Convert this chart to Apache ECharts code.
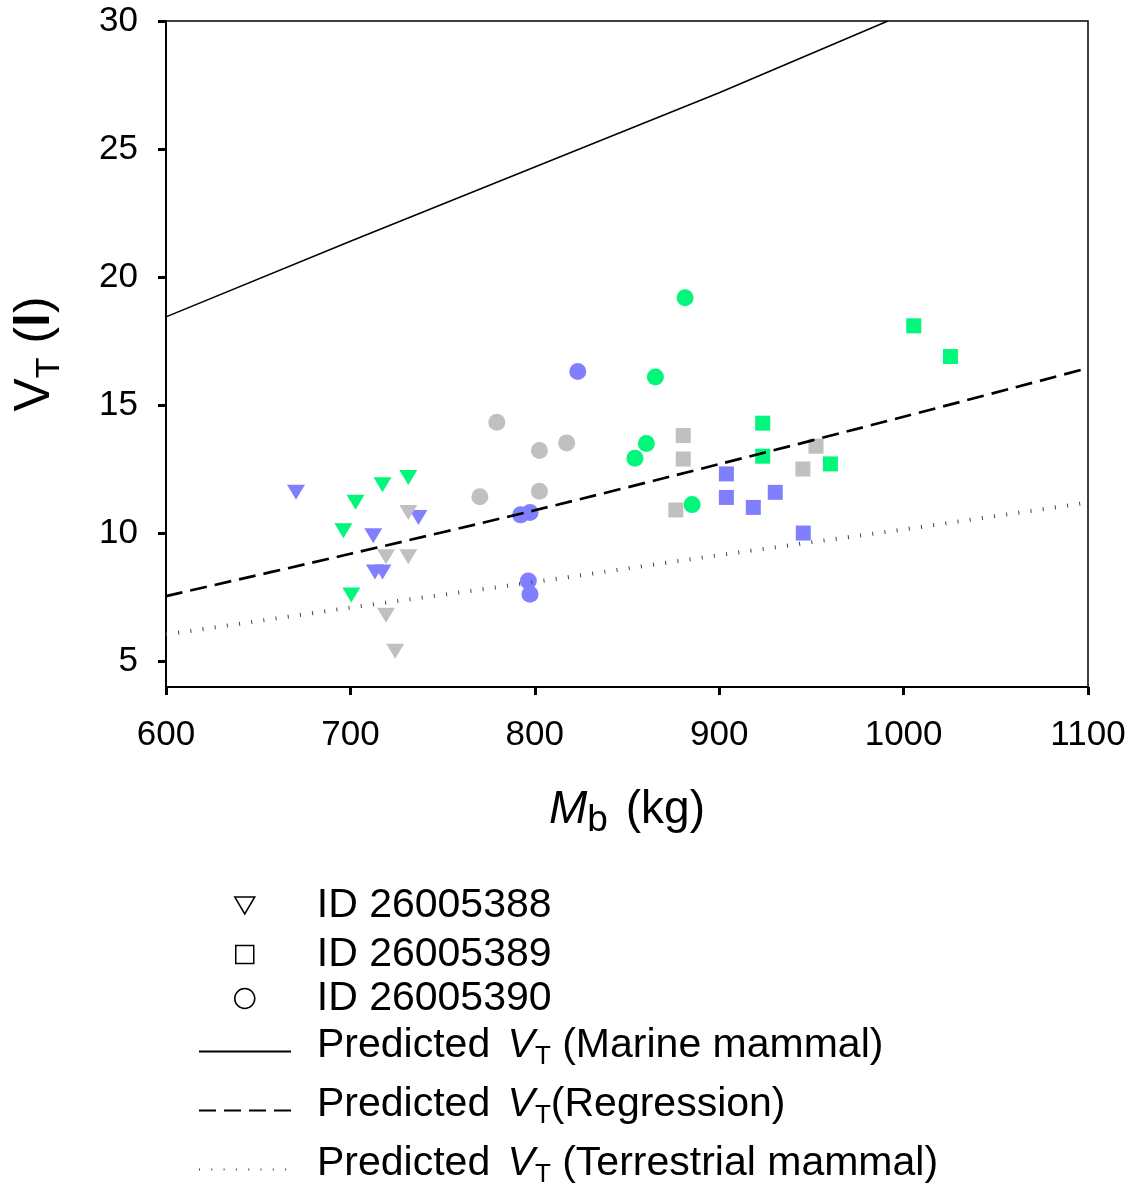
<!DOCTYPE html>
<html><head><meta charset="utf-8">
<script src="https://cdn.jsdelivr.net/npm/echarts@6/dist/echarts.min.js"></script>
<style>html,body{margin:0;padding:0;background:#fff}#c{width:1137px;height:1185px}</style>
</head><body><div id="c"></div>
<script>
// ---- Data ----
const xTicks = [600, 700, 800, 900, 1000, 1100];
const yTicks = [5, 10, 15, 20, 25, 30];

// ID 26005388 (triangles)
const triGreen = [[731.4,12.18],[717.4,11.9],[702.8,11.21],[696.2,10.1],[700.5,7.59]];
const triBlue  = [[670.5,11.6],[736.9,10.62],[712.4,9.9],[713.3,8.49],[717.4,8.49]];
const triGray  = [[731.4,10.81],[719.3,9.08],[731.4,9.08],[719.3,6.8],[724.3,5.4]];
// ID 26005389 (squares)
const sqGreen = [[923.6,14.3],[923.6,13.01],[960.3,12.71],[1005.5,18.1],[1025.4,16.9]];
const sqBlue  = [[903.9,12.32],[903.9,11.4],[918.5,11.01],[930.4,11.6],[945.6,10.01]];
const sqGray  = [[880.5,13.82],[880.5,12.9],[876.5,10.91],[952.5,13.4],[945.4,12.51]];
// ID 26005390 (circles)
const ciGreen = [[881.5,19.2],[865.4,16.1],[860.5,13.51],[854.3,12.93],[885.3,11.12]];
const ciBlue  = [[823.3,16.32],[792.3,10.72],[797.4,10.81],[796.5,8.14],[797.4,7.62]];
const ciGray  = [[779.4,14.34],[802.5,13.23],[817.3,13.53],[770.2,11.43],[802.5,11.64]];

// Predicted lines (read at several masses)
const marineX = [600, 700, 800, 900, 991.5];
const marineY = [18.45, 21.4, 24.3, 27.2, 30];
const regX = [600, 700, 800, 900, 1000, 1100];
const regY = [7.55, 9.2, 10.9, 12.7, 14.55, 16.45];
const terrX = [600, 700, 800, 900, 1000, 1100];
const terrY = [6.05, 7.1, 8.1, 9.15, 10.15, 11.2];

const names = ['ID 26005388', 'ID 26005389', 'ID 26005390',
  'Predicted VT (Marine mammal)', 'Predicted VT (Regression)', 'Predicted VT (Terrestrial mammal)'];
const lineLabels = {
  'Predicted VT (Marine mammal)': '{n|Predicted }{v|V}{s|T}{n| (Marine mammal)}',
  'Predicted VT (Regression)': '{n|Predicted }{v|V}{s|T}{n|(Regression)}',
  'Predicted VT (Terrestrial mammal)': '{n|Predicted }{v|V}{s|T}{n| (Terrestrial mammal)}'
};

// ---- Styling ----
const FF = '"Liberation Sans", Arial, sans-serif';
const GREEN = '#00F77C', BLUE = '#8080FF', GRAY = '#C0C0C0';
const zip = (xs, ys) => xs.map((x, i) => [x, ys[i]]);

function scat(name, data, color, symbol, size) {
  return { type: 'scatter', name, data, symbol, symbolSize: size,
    itemStyle: { color, opacity: 1 }, z: 2, silent: true };
}
const downTri = 'path://M0,0L20,0L10,17Z';
const series = [
  scat(names[0], triGreen, GREEN, downTri, [18, 15]),
  scat(names[0], triBlue, BLUE, downTri, [18, 15]),
  scat(names[0], triGray, GRAY, downTri, [18, 15]),
  scat(names[1], sqGreen, GREEN, 'rect', 15),
  scat(names[1], sqBlue, BLUE, 'rect', 15),
  scat(names[1], sqGray, GRAY, 'rect', 15),
  scat(names[2], ciGreen, GREEN, 'circle', 17),
  scat(names[2], ciBlue, BLUE, 'circle', 17),
  scat(names[2], ciGray, GRAY, 'circle', 17),
  { type: 'line', name: names[3], data: zip(marineX, marineY), symbol: 'none', z: 5, silent: true,
    itemStyle: { color: '#000' },
    lineStyle: { color: '#000', width: 1.5, type: 'solid' } },
  { type: 'line', name: names[4], data: zip(regX, regY), symbol: 'none', z: 5, silent: true, smooth: 0.3,
    itemStyle: { color: '#000' },
    lineStyle: { color: '#000', width: 2.7, type: [17, 8] } },
  { type: 'line', name: names[5], data: zip(terrX, terrY), symbol: 'none', z: 5, silent: true,
    itemStyle: { color: '#444' },
    lineStyle: { color: '#444', width: 4, type: [1, 11.3] } }
];

const richLeg = {
  n: { fontSize: 41, fontFamily: FF, color: '#000', lineHeight: 48 },
  v: { fontSize: 41, fontFamily: FF, color: '#000', fontStyle: 'italic', lineHeight: 48, padding: [0, 0, 0, 6] },
  s: { fontSize: 26, fontFamily: FF, color: '#000', lineHeight: 17.5, verticalAlign: 'bottom' }
};
function legendSym(name, top, icon, w, h) {
  return {
    left: 244 - w / 2, top, padding: 0, itemWidth: w, itemHeight: h, selectedMode: false,
    data: [{ name, icon, itemStyle: { color: '#fff', borderColor: '#000', borderWidth: 1.5 } }],
    textStyle: { fontSize: 41, fontFamily: FF, color: '#000', padding: [0, 0, 6, 316 - (244 + w / 2) - 5] }
  };
}
function legendLine(name, top) {
  return {
    left: 198, top, padding: 0, itemWidth: 92, itemHeight: 17, selectedMode: false,
    data: [{ name, itemStyle: { opacity: 0 } }],
    formatter: n => lineLabels[n],
    textStyle: { fontSize: 41, fontFamily: FF, color: '#000', padding: [0, 0, 12, 21], rich: richLeg }
  };
}

const option = {
  animation: false,
  backgroundColor: '#fff',
  grid: { left: 166, right: 49, top: 21, bottom: 498, show: true, borderColor: '#000', borderWidth: 1.5,
    backgroundColor: 'transparent' },
  xAxis: {
    type: 'value', min: 600, max: 1100, interval: 100,
    axisLine: { lineStyle: { color: '#000', width: 2 } },
    axisTick: { inside: false, length: 8, lineStyle: { color: '#000', width: 3 } },
    axisLabel: { fontSize: 35, fontFamily: FF, color: '#000', margin: 31,
      formatter: v => xTicks.includes(v) ? String(v) : '' },
    splitLine: { show: false },
    name: '{m|M}{s|b}{n| (kg)}', nameLocation: 'middle', nameGap: 94,
    nameTextStyle: { rich: {
      m: { fontSize: 46, fontFamily: FF, color: '#000', fontStyle: 'italic', lineHeight: 58 },
      n: { fontSize: 46, fontFamily: FF, color: '#000', lineHeight: 58, padding: [0, 0, 0, 5] },
      s: { fontSize: 37, fontFamily: FF, color: '#000', lineHeight: 25, verticalAlign: 'bottom' }
    } }
  },
  yAxis: {
    type: 'value', min: 4, max: 30,
    axisLine: { show: true, lineStyle: { color: '#000', width: 2 } },
    axisTick: { show: true, inside: false, length: 8, customValues: yTicks, lineStyle: { color: '#000', width: 3 } },
    axisLabel: { fontSize: 35, fontFamily: FF, color: '#000', margin: 28, customValues: yTicks },
    splitLine: { show: false },
    name: '{v|V}{s|T}{p| (}{l|l}{p|)}', nameLocation: 'middle', nameGap: 99, nameRotate: 90,
    nameTextStyle: { rich: {
      v: { fontSize: 50, fontFamily: FF, color: '#000', lineHeight: 64 },
      p: { fontSize: 50, fontFamily: FF, color: '#000', lineHeight: 64 },
      l: { fontSize: 50, fontFamily: FF, color: '#000', fontWeight: 'bold', lineHeight: 64 },
      s: { fontSize: 34, fontFamily: FF, color: '#000', lineHeight: 23, verticalAlign: 'bottom' }
    } }
  },
  legend: [
    legendSym(names[0], 885, downTri, 20, 18),
    legendSym(names[1], 934, 'rect', 18, 18),
    legendSym(names[2], 978, 'circle', 20, 20),
    legendLine(names[3], 1025),
    legendLine(names[4], 1084),
    legendLine(names[5], 1143)
  ],
  series
};
const chart = echarts.init(document.getElementById('c'), null, { renderer: 'canvas' });
chart.setOption(option);
</script>
</body></html>
